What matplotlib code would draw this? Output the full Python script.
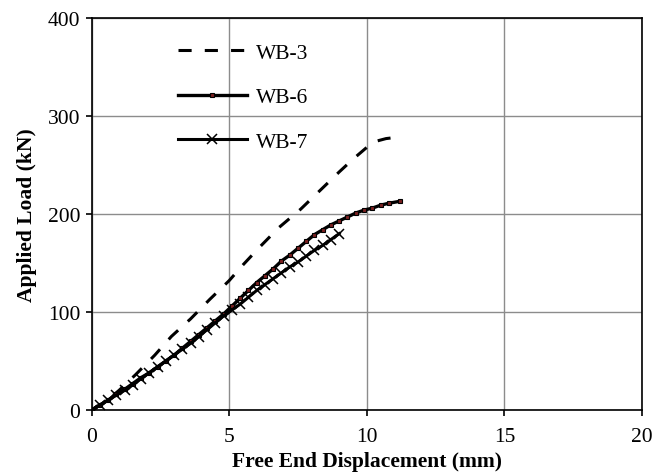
import matplotlib
matplotlib.use("Agg")
import matplotlib.pyplot as plt

plt.rcParams.update({
    "font.family": "Liberation Serif",
    "font.size": 15.5,
})

# WB-3 (dashed)
wb3_x = [0.0, 0.5, 1.0, 1.6, 2.3, 2.9, 3.6, 4.3, 5.0, 5.5, 6.1, 6.8, 7.6,
         8.3, 9.0, 9.5, 10.0, 10.3, 10.7, 11.3]
wb3_y = [0, 8, 20, 36, 56, 75, 93, 113, 132, 148, 166, 186, 205,
         224, 243, 256, 268, 274, 277, 279]

# WB-6 (solid, small square markers)
wb6_x = [0.0, 0.3, 0.6, 0.9, 1.2, 1.5, 1.8, 2.1, 2.4, 2.7, 3.0, 3.3, 3.6,
         3.9, 4.2, 4.5, 4.8, 5.1, 5.4, 5.7, 6.0, 6.3, 6.6, 6.9, 7.2, 7.5,
         7.8, 8.1, 8.4, 8.7, 9.0, 9.3, 9.6, 9.9, 10.2, 10.5, 10.8, 11.2]
wb6_y = [0, 5, 10, 16, 21, 27, 33, 38, 44, 50, 56, 63, 70,
         77, 84, 91, 98, 106, 114, 122, 130, 137, 144, 152, 158, 165,
         172, 179, 184, 189, 193, 197, 201, 204, 206, 209, 211, 213]

# WB-7 (solid, x markers)
wb7_x = [0.0, 0.3, 0.6, 0.9, 1.2, 1.5, 1.8, 2.1, 2.4, 2.7, 3.0, 3.3, 3.6,
         3.9, 4.2, 4.5, 4.8, 5.1, 5.4, 5.7, 6.0, 6.3, 6.6, 6.9, 7.2, 7.5,
         7.8, 8.1, 8.4, 8.7, 9.0]
wb7_y = [0, 5, 10, 15, 20, 26, 32, 38, 44, 50, 56, 62, 68,
         75, 82, 89, 96, 102, 108, 115, 122, 128, 134, 140, 146, 151,
         157, 163, 168, 174, 180]

fig = plt.figure(figsize=(6.66, 4.77), dpi=100)
ax = fig.add_axes([0.1374, 0.1384, 0.8266, 0.8216])

ax.plot(wb3_x, wb3_y, color="black", lw=2.2, dashes=(4.3, 4.3), label="WB-3")
ax.plot(wb6_x, wb6_y, color="black", lw=2.4, marker="s", ms=2.8,
        mfc="#7a2020", mec="black", mew=0.8, label="WB-6")
ax.plot(wb7_x, wb7_y, color="black", lw=2.2, marker="x", ms=6.5,
        mew=1.1, label="WB-7")

ax.set_xlim(0, 20)
ax.set_ylim(0, 400)
ax.set_xticks([0, 5, 10, 15, 20])
ax.set_yticks([0, 100, 200, 300, 400])
ax.grid(True, color="#8c8c8c", lw=1.0)
ax.set_axisbelow(True)
for s in ax.spines.values():
    s.set_linewidth(1.2)
ax.tick_params(direction="out", length=4, width=1.2)
ax.tick_params(axis="x", pad=8)
ax.tick_params(axis="y", pad=4)

ax.set_xlabel("Free End Displacement (mm)", fontweight="bold", labelpad=4)
ax.set_ylabel("Applied Load (kN)", fontweight="bold", labelpad=8)

ax.legend(loc="upper left", bbox_to_anchor=(0.157, 0.937), frameon=False,
          borderpad=0, borderaxespad=0, handlelength=3.2, handletextpad=0.42,
          labelspacing=1.13, numpoints=1)

fig.savefig("out.png", dpi=100)
